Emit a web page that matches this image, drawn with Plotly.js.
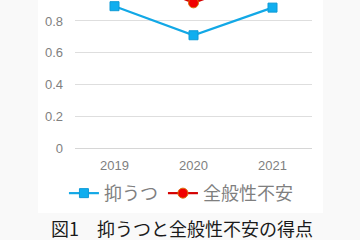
<!DOCTYPE html>
<html>
<head>
<meta charset="utf-8">
<script src="https://cdn.plot.ly/plotly-3.0.1.min.js"></script>
<style>
  html, body { margin: 0; padding: 0; background: #f9f9f9; }
  #chart { width: 360px; height: 240px; }
</style>
</head>
<body>
<div id="chart"></div>
<script>
// Survey years
const years = ['2019', '2020', '2021'];
// Mean scores per year
const depression = [0.893, 0.71, 0.884];
const anxiety = [1.12, 0.914, 1.10];
// Series names
const seriesNames = ['抑うつ', '全般性不安'];
const caption = '図1\u3000抑うつと全般性不安の得点';

const jpFont = '"Noto Sans CJK JP", "Noto Sans", sans-serif';

const traces = [
  {
    x: years, y: depression, name: seriesNames[0],
    type: 'scatter', mode: 'lines+markers',
    line: { color: '#12a8e6', width: 2.2 },
    marker: { symbol: 'square', size: 9, color: '#10aeef', line: { color: '#0e9ad6', width: 1 } }
  },
  {
    x: years, y: anxiety, name: seriesNames[1],
    type: 'scatter', mode: 'lines+markers',
    line: { color: '#d40000', width: 2.2 },
    marker: { symbol: 'circle', size: 10, color: '#f00000', line: { color: '#d9700a', width: 1 } }
  }
];

const layout = {
  width: 360, height: 240,
  margin: { l: 75, r: 48, t: 0, b: 92, autoexpand: false },
  paper_bgcolor: '#f9f9f9',
  plot_bgcolor: '#ffffff',
  showlegend: true,
  xaxis: {
    type: 'category', range: [-0.5, 2.5], automargin: false,
    showgrid: false, zeroline: false, showline: false,
    ticks: '', ticklabelstandoff: 8,
    tickfont: { family: 'Liberation Sans, Arial, sans-serif', size: 13, color: '#7f7f7f' }
  },
  yaxis: {
    range: [0, 0.932], dtick: 0.2, tick0: 0, automargin: false,
    showgrid: true, gridcolor: '#dedede', gridwidth: 1,
    zeroline: true, zerolinecolor: '#d6d6d6', zerolinewidth: 1,
    showline: false, ticks: '', ticklabelstandoff: 11,
    tickfont: { family: 'Liberation Sans, Arial, sans-serif', size: 13, color: '#7f7f7f' }
  },
  legend: {
    orientation: 'h', x: 0.447, xanchor: 'center',
    y: -0.307, yanchor: 'middle',
    font: { family: jpFont, size: 18, color: '#7f7f7f' },
    itemwidth: 30, tracegroupgap: 0,
    bgcolor: 'rgba(0,0,0,0)'
  },
  shapes: [
    {
      type: 'rect', xref: 'paper', yref: 'paper', layer: 'below',
      x0: -0.156, x1: 1.046, y0: -0.439, y1: 1.2,
      fillcolor: '#ffffff', line: { width: 0 }
    }
  ],
  annotations: [
    {
      text: caption, xref: 'paper', yref: 'paper',
      x: 0.45, xanchor: 'center', y: -0.54, yanchor: 'middle',
      showarrow: false,
      font: { family: jpFont, size: 18, color: '#1a1a1a' }
    }
  ]
};

Plotly.newPlot('chart', traces, layout, { displayModeBar: false, staticPlot: true });
</script>
</body>
</html>
